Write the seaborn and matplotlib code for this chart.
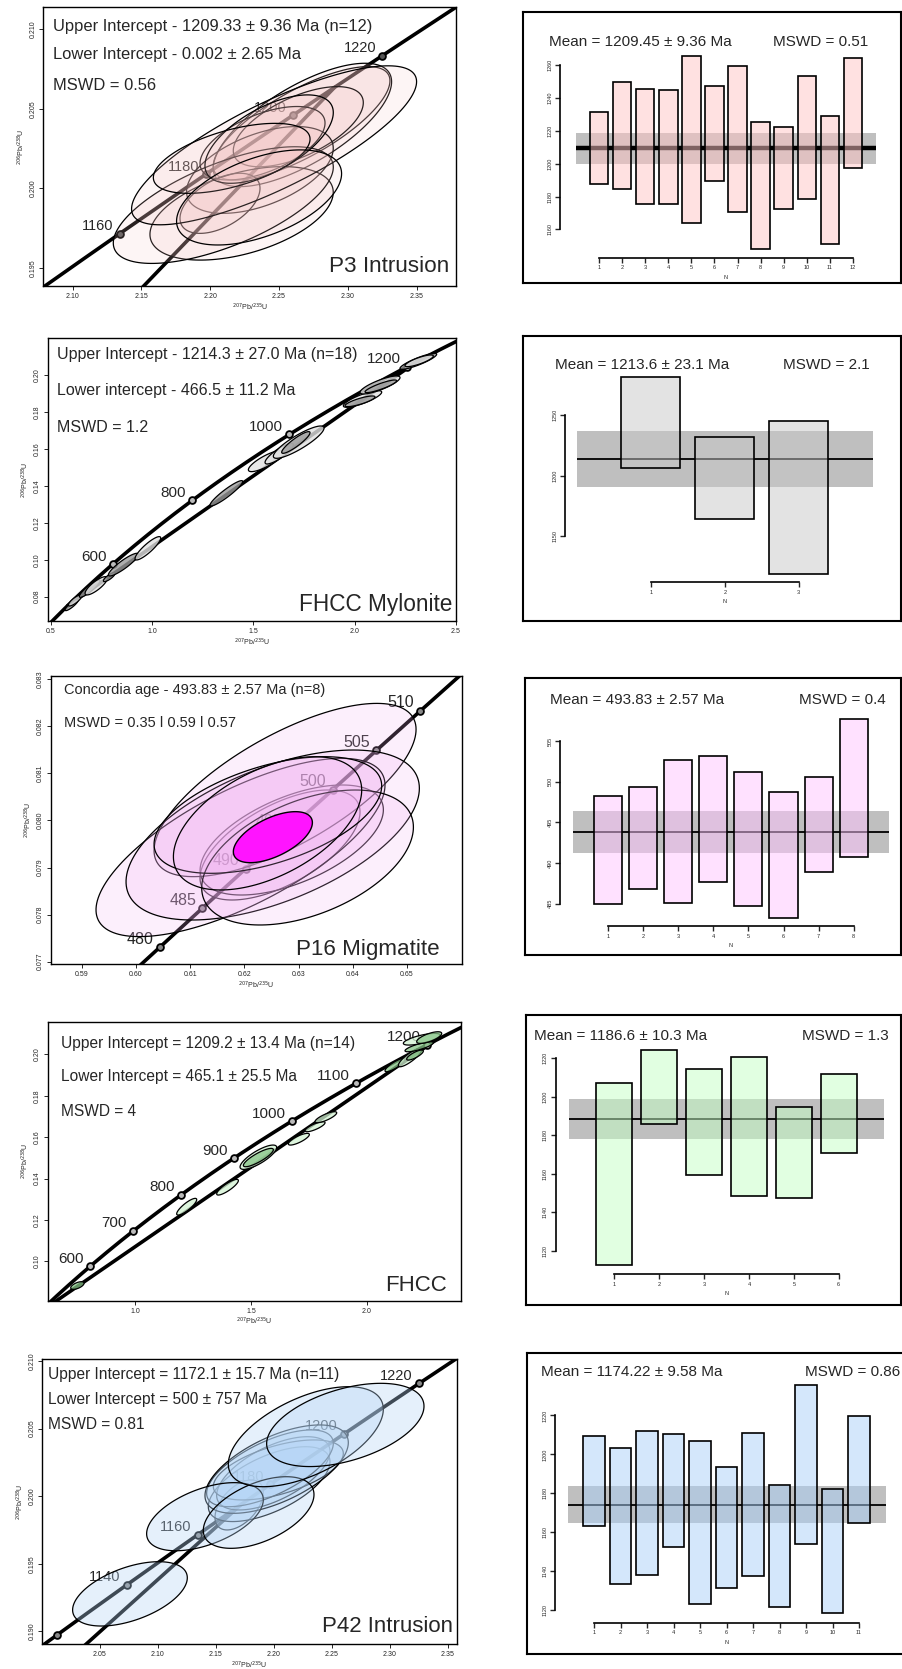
"""U-Pb concordia diagrams and weighted-mean age plots for five samples."""

import numpy as np
import matplotlib
matplotlib.use("Agg")
import matplotlib.pyplot as plt
from matplotlib.colors import to_rgba
import seaborn as sns

W, H = 902, 1669
L238 = 1.55125e-10
L235 = 9.8485e-10

# ---------------- concordia panels: (cx, cy, sx, sy, rho) ----------------
p3_ages = [1160, 1180, 1200, 1220]
p3_intercepts = [0.002, 1209.33]
p3_ellipses = [
    (2.2664, 0.20408, 0.0642, 0.00357, 0.75),
    (2.2670, 0.20398, 0.0648, 0.00388, 0.70),
    (2.2640, 0.20387, 0.04724, 0.00252, 0.60),
    (2.2361, 0.20115, 0.0533, 0.00273, 0.50),
    (2.2380, 0.20283, 0.04542, 0.00231, 0.55),
    (2.2071, 0.19905, 0.02907, 0.00189, 0.50),
    (2.2228, 0.19842, 0.0666, 0.00294, 0.45),
    (2.2095, 0.19894, 0.07994, 0.00367, 0.65),
    (2.2464, 0.20270, 0.10356, 0.00500, 0.80),
    (2.2428, 0.20309, 0.04663, 0.00278, 0.60),
    (2.2156, 0.20188, 0.05693, 0.00220, 0.55),
    (2.2355, 0.19942, 0.05996, 0.00299, 0.50),
]
p3_texts = ["Upper Intercept - 1209.33 ± 9.36 Ma (n=12)",
            "Lower Intercept - 0.002 ± 2.65 Ma", "MSWD = 0.56"]

mylo_ages = [600, 800, 1000, 1200]
mylo_intercepts = [466.5, 1214.3]
mylo_ellipses = [
    (0.6036, 0.07549, 0.0329, 0.00307, 0.88),
    (0.6201, 0.07792, 0.0329, 0.00298, 0.82),
    (0.6924, 0.08433, 0.0510, 0.00469, 0.90),
    (0.7245, 0.08587, 0.0551, 0.00496, 0.82),
    (0.7887, 0.09056, 0.0288, 0.00244, 0.82),
    (0.8586, 0.09733, 0.0740, 0.00614, 0.90),
    (0.9794, 0.10617, 0.0633, 0.00632, 0.88),
    (1.3668, 0.13596, 0.0806, 0.00686, 0.93),
    (1.5617, 0.15338, 0.0863, 0.00569, 0.82),
    (1.6275, 0.15744, 0.0699, 0.00560, 0.85),
    (1.7237, 0.16366, 0.1250, 0.00875, 0.87),
    (1.7097, 0.16348, 0.0699, 0.00587, 0.90),
    (2.0387, 0.18704, 0.0946, 0.00451, 0.82),
    (2.0263, 0.18578, 0.0740, 0.00289, 0.82),
    (2.1250, 0.19462, 0.0987, 0.00487, 0.82),
    (2.1291, 0.19390, 0.0781, 0.00343, 0.88),
    (2.3141, 0.20744, 0.0905, 0.00433, 0.88),
    (2.3183, 0.20771, 0.0699, 0.00316, 0.82),
]
mylo_dark = [1, 0, 1, 0, 1, 1, 0, 1, 0, 0, 0, 1, 0, 1, 0, 1, 1, 0]
mylo_texts = ["Upper Intercept - 1214.3 ± 27.0 Ma (n=18)",
              "Lower intercept - 466.5 ± 11.2 Ma", "MSWD = 1.2"]

p16_ages = [480, 485, 490, 495, 500, 505, 510]
p16_concordia_ellipse = (0.62527, 0.079645, 0.00729, 0.000542, 0.57)
p16_ellipses = [
    (0.62659, 0.079479, 0.01476, 0.001169, 0.60),
    (0.62875, 0.079585, 0.01691, 0.001169, 0.55),
    (0.62752, 0.080647, 0.02417, 0.001841, 0.70),
    (0.61930, 0.079426, 0.02666, 0.001894, 0.70),
    (0.62524, 0.079691, 0.02706, 0.001806, 0.55),
    (0.63167, 0.079213, 0.01953, 0.001434, 0.45),
    (0.62435, 0.080116, 0.02100, 0.001239, 0.50),
    (0.62429, 0.079939, 0.01737, 0.001416, 0.50),
]
p16_texts = ["Concordia age - 493.83 ± 2.57 Ma (n=8)", "MSWD = 0.35 l 0.59 l 0.57"]

fhcc_ages = [600, 700, 800, 900, 1000, 1100, 1200]
fhcc_intercepts = [465.1, 1209.2]
fhcc_ellipses = [
    (0.7511, 0.08833, 0.0288, 0.00185, 0.60),
    (1.2230, 0.12641, 0.0432, 0.00403, 0.85),
    (1.3993, 0.13583, 0.0468, 0.00378, 0.85),
    (1.5324, 0.15032, 0.0791, 0.00588, 0.80),
    (1.5324, 0.15016, 0.0647, 0.00443, 0.85),
    (1.7072, 0.15902, 0.0453, 0.00282, 0.80),
    (1.7770, 0.16506, 0.0432, 0.00242, 0.80),
    (1.8237, 0.16965, 0.0468, 0.00266, 0.80),
    (2.1223, 0.19485, 0.0432, 0.00322, 0.85),
    (2.1871, 0.19847, 0.0504, 0.00443, 0.85),
    (2.2266, 0.20370, 0.0612, 0.00242, 0.80),
    (2.2374, 0.20733, 0.0791, 0.00282, 0.70),
    (2.2698, 0.20813, 0.0540, 0.00282, 0.70),
    (2.2086, 0.19968, 0.0360, 0.00242, 0.80),
]
fhcc_dark = [1, 0, 0, 0, 1, 0, 0, 0, 1, 0, 1, 0, 1, 1]
fhcc_texts = ["Upper Intercept = 1209.2 ± 13.4 Ma (n=14)",
              "Lower Intercept = 465.1 ± 25.5 Ma", "MSWD = 4"]

p42_ages = [1120, 1140, 1160, 1180, 1200, 1220]
p42_labelled = [1140, 1160, 1180, 1200, 1220]
p42_intercepts = [500, 1172.1]
p42_ellipses = [
    (2.17000, 0.19935, 0.02083, 0.00185, 0.50),
    (2.19583, 0.20089, 0.05244, 0.00277, 0.60),
    (2.19943, 0.20169, 0.04885, 0.00271, 0.60),
    (2.20374, 0.20194, 0.05603, 0.00222, 0.55),
    (2.19655, 0.20206, 0.05460, 0.00284, 0.65),
    (2.20230, 0.20200, 0.06178, 0.00327, 0.60),
    (2.07586, 0.19277, 0.04943, 0.00238, 0.50),
    (2.14052, 0.19848, 0.05029, 0.00252, 0.50),
    (2.18678, 0.19879, 0.04770, 0.00265, 0.50),
    (2.22744, 0.20440, 0.06681, 0.00370, 0.55),
    (2.26149, 0.20527, 0.06782, 0.00308, 0.45),
]
p42_texts = ["Upper Intercept = 1172.1 ± 15.7 Ma (n=11)",
             "Lower Intercept = 500 ± 757 Ma", "MSWD = 0.81"]

# ---------------- weighted mean panels ----------------
r1_lo = [1187.8, 1184.4, 1175.6, 1175.2, 1164.0, 1189.6, 1170.7, 1147.8, 1172.2, 1178.7, 1151.0, 1197.6]
r1_hi = [1231.5, 1250.0, 1245.4, 1244.8, 1265.5, 1247.6, 1259.4, 1225.4, 1222.6, 1253.5, 1229.1, 1264.6]
r1_mean, r1_err = 1209.45, 9.36
r2_lo = [1206.1, 1164.4, 1119.2]
r2_hi = [1281.4, 1232.1, 1244.7]
r2_mean, r2_err = 1213.6, 23.1
r3_lo = [484.98, 486.82, 485.06, 487.69, 484.73, 483.25, 488.84, 490.69]
r3_hi = [498.28, 499.35, 502.64, 503.13, 501.23, 498.73, 500.58, 507.72]
r3_mean, r3_err = 493.83, 2.57
r4_lo = [1112.4, 1185.7, 1159.2, 1148.3, 1147.2, 1170.8]
r4_hi = [1207.3, 1224.4, 1214.2, 1220.8, 1194.8, 1211.9]
r4_mean, r4_err = 1188.6, 10.4
r5_lo = [1163.2, 1133.2, 1138.2, 1152.2, 1123.0, 1131.3, 1137.5, 1121.6, 1154.1, 1118.3, 1164.6]
r5_hi = [1209.2, 1203.1, 1212.0, 1210.6, 1207.0, 1193.5, 1210.9, 1184.2, 1235.4, 1182.3, 1219.8]
r5_mean, r5_err = 1174.22, 9.58

r_texts = [("Mean = 1209.45 ± 9.36 Ma", "MSWD = 0.51"),
           ("Mean = 1213.6 ± 23.1 Ma", "MSWD = 2.1"),
           ("Mean = 493.83 ± 2.57 Ma", "MSWD = 0.4"),
           ("Mean = 1186.6 ± 10.3 Ma", "MSWD = 1.3"),
           ("Mean = 1174.22 ± 9.58 Ma", "MSWD = 0.86")]

sns.set_style("ticks")
plt.rcParams["font.family"] = ["Liberation Sans", "DejaVu Sans"]
plt.rcParams["axes.unicode_minus"] = False

fig = plt.figure(figsize=(W / 100, H / 100), dpi=100)


def px_rect(x0, y0, x1, y1):
    return [x0 / W, 1 - y1 / H, (x1 - x0) / W, (y1 - y0) / H]


def fig_text(x, y, s, size, ha="left"):
    fig.text(x / W, 1 - y / H, s, ha=ha, va="center", fontsize=size)


def concordia(t_ma):
    t = np.asarray(t_ma, float) * 1e6
    return np.exp(L235 * t) - 1, np.exp(L238 * t) - 1


def ellipse(cx, cy, sx, sy, rho, n=160):
    t = np.linspace(0, 2 * np.pi, n)
    return cx + sx * np.cos(t), cy + sy * (rho * np.cos(t) + np.sqrt(1 - rho ** 2) * np.sin(t))


def concordia_panel(frame, xlim, ylim, xticks, yticks, xfmt, yfmt, t_span, ages, labelled,
                    intercepts, ellipses, fills, alpha, marker_fc, age_size=11):
    ax = fig.add_axes(px_rect(*frame))
    t = np.linspace(t_span[0], t_span[1], 400)
    cx, cy = concordia(t)
    sns.lineplot(x=cx, y=cy, sort=False, estimator=None, color="black",
                 linewidth=2.6, ax=ax, zorder=2)
    if intercepts is not None:
        # discordia: straight chord between lower and upper intercepts
        ix, iy = concordia(intercepts)
        sns.lineplot(x=ix, y=iy, sort=False, estimator=None, color="black",
                     linewidth=2.6, ax=ax, zorder=2)
    mx, my = concordia(ages)
    sns.scatterplot(x=mx, y=my, s=24, color=marker_fc, edgecolor="black",
                    linewidth=1.3, ax=ax, zorder=2.5, legend=False)
    for a, x, y in zip(ages, mx, my):
        if a in labelled:
            ax.annotate(str(a), (x, y), xytext=(-4.5, 2.5), textcoords="offset points",
                        ha="right", va="baseline", fontsize=age_size, zorder=2.6)
    for (ex, ey, sx, sy, rho), fc in zip(ellipses, fills):
        px, py = ellipse(ex, ey, sx, sy, rho)
        ax.fill(px, py, facecolor=to_rgba(fc, alpha), edgecolor="black",
                linewidth=0.9, zorder=3)
    ax.set_xlim(*xlim)
    ax.set_ylim(*ylim)
    ax.set_xticks(xticks)
    ax.set_xticklabels([xfmt % v for v in xticks])
    ax.set_yticks(yticks)
    ax.set_yticklabels([yfmt % v for v in yticks], rotation=90, va="center")
    ax.tick_params(direction="out", length=3, width=0.7, labelsize=5, pad=2)
    ax.set_xlabel(r"$^{207}$Pb/$^{235}$U", fontsize=5, labelpad=1)
    ax.set_ylabel(r"$^{206}$Pb/$^{238}$U", fontsize=5, labelpad=2)
    for s in ax.spines.values():
        s.set_linewidth(1.0)
        s.set_color("black")
    return ax


def wm_panel(box, inner, ylim, spine_px, lo, hi, mean, err, yticks, color, mean_lw):
    bax = fig.add_axes(px_rect(*box))
    bax.set_xticks([])
    bax.set_yticks([])
    for s in bax.spines.values():
        s.set_linewidth(1.5)
        s.set_color("black")
    ax = fig.add_axes(px_rect(*inner))
    ax.patch.set_visible(False)
    lo = np.array(lo)
    hi = np.array(hi)
    n = len(lo)
    x = np.arange(1, n + 1)
    ax.set_xlim(0, n + 1)
    ax.set_ylim(*ylim)
    ax.axhspan(mean - err, mean + err, color="#808080", alpha=0.5, lw=0, zorder=1)
    ax.axhline(mean, color="black", lw=mean_lw, zorder=2)
    ax.bar(x, hi - lo, bottom=lo, width=0.8, color=to_rgba(color, 0.5),
           edgecolor="black", linewidth=1.2, zorder=3)
    ax.spines[["top", "right"]].set_visible(False)
    ax.spines["left"].set_position(("outward", spine_px * 0.72))
    ax.spines["left"].set_bounds(yticks[0], yticks[-1])
    ax.spines["bottom"].set_bounds(1, n)
    for s in ("left", "bottom"):
        ax.spines[s].set_linewidth(1.2)
        ax.spines[s].set_color("black")
    ax.set_xticks(x)
    ax.set_xticklabels([str(v) for v in x])
    ax.set_yticks(yticks)
    ax.set_yticklabels([str(v) for v in yticks], rotation=90, va="center")
    ax.tick_params(direction="out", length=3.5, width=1.0, labelsize=4, pad=2)
    ax.set_xlabel("N", fontsize=4, labelpad=3)
    return ax


# ---- row 1: P3 Intrusion ----
concordia_panel((43.3, 7.3, 456, 286), (2.0787, 2.3786), (0.19385, 0.21138),
                [2.10, 2.15, 2.20, 2.25, 2.30, 2.35], [0.195, 0.200, 0.205, 0.210],
                "%.2f", "%.3f", (1100, 1260), p3_ages, p3_ages, p3_intercepts,
                p3_ellipses, ["#f4c4c4"] * len(p3_ellipses), 0.17, "#555555", 10.5)
for txt, y in zip(p3_texts, [26, 55, 85.7]):
    fig_text(52.7, y, txt, 11.9)
fig_text(449.3, 266.7, "P3 Intrusion", 16.2, ha="right")

# ---- row 2: FHCC Mylonite ----
concordia_panel((47.7, 338.3, 456, 621), (0.485, 2.5), (0.0668, 0.2199),
                [0.5, 1.0, 1.5, 2.0, 2.5], [0.08, 0.10, 0.12, 0.14, 0.16, 0.18, 0.20],
                "%.1f", "%.2f", (350, 1300), mylo_ages, mylo_ages, mylo_intercepts,
                mylo_ellipses, ["#9a9a9a" if d else "#e2e2e2" for d in mylo_dark],
                0.8, "#bbbbbb", 11)
for txt, y in zip(mylo_texts, [355, 391, 427.3]):
    fig_text(56.7, y, txt, 11.5)
fig_text(452.7, 605, "FHCC Mylonite", 16.3, ha="right")

# ---- row 3: P16 Migmatite ----
ax3 = concordia_panel((50.7, 676, 461.7, 964), (0.58428, 0.66011), (0.07695, 0.08307),
                      [0.59, 0.60, 0.61, 0.62, 0.63, 0.64, 0.65],
                      [0.077, 0.078, 0.079, 0.080, 0.081, 0.082, 0.083],
                      "%.2f", "%.3f", (470, 520), p16_ages, p16_ages, None,
                      p16_ellipses, ["#f2b2f2"] * len(p16_ellipses), 0.2, "#888888", 11.5)
ex, ey = ellipse(*p16_concordia_ellipse)
ax3.fill(ex, ey, facecolor="#ff14ff", edgecolor="black", linewidth=1.0, zorder=4)
for txt, y in zip(p16_texts, [690, 723.3]):
    fig_text(64, y, txt, 10.5)
fig_text(439.3, 949.3, "P16 Migmatite", 16.1, ha="right")

# ---- row 4: FHCC ----
concordia_panel((47.7, 1021.7, 460.7, 1300.7), (0.623, 2.4058), (0.0810, 0.2158),
                [1.0, 1.5, 2.0], [0.10, 0.12, 0.14, 0.16, 0.18, 0.20],
                "%.1f", "%.2f", (350, 1300), fhcc_ages, fhcc_ages, fhcc_intercepts,
                fhcc_ellipses, ["#86c486" if d else "#d2f2d2" for d in fhcc_dark],
                0.75, "#bbbbbb", 11)
for txt, y in zip(fhcc_texts, [1043.3, 1076, 1111.7]):
    fig_text(61, y, txt, 11.2)
fig_text(446.7, 1285, "FHCC", 16, ha="right")

# ---- row 5: P42 Intrusion ----
concordia_panel((42.3, 1359, 456.7, 1644), (2.0003, 2.3575), (0.18906, 0.21015),
                [2.05, 2.10, 2.15, 2.20, 2.25, 2.30, 2.35],
                [0.190, 0.195, 0.200, 0.205, 0.210],
                "%.2f", "%.3f", (1080, 1260), p42_ages, p42_labelled, p42_intercepts,
                p42_ellipses, ["#b6d6f6"] * len(p42_ellipses), 0.35, "#888888", 10.5)
for txt, y in zip(p42_texts, [1374.3, 1399, 1424.3]):
    fig_text(48.3, y, txt, 11.2)
fig_text(453.3, 1626.7, "P42 Intrusion", 16, ha="right")

# ---- weighted mean panels ----
wm_panel((523, 12, 901, 283), (575.9, 20, 876.1, 257.7), (1142.7, 1287.6), 15.9,
         r1_lo, r1_hi, r1_mean, r1_err, [1160, 1180, 1200, 1220, 1240, 1260], "#ffc4c4", 3.2)
wm_panel((522.7, 336, 901, 621), (576.7, 345, 872.7, 582.3), (1112.3, 1307.5), 11.4,
         r2_lo, r2_hi, r2_mean, r2_err, [1150, 1200, 1250], "#c8c8c8", 1.3)
wm_panel((524.7, 678, 901, 955), (572.9, 690, 888.8, 926), (482.23, 511.29), 12.9,
         r3_lo, r3_hi, r3_mean, r3_err, [485, 490, 495, 500, 505], "#ffc4ff", 1.3)
wm_panel((526, 1014.7, 901, 1305), (569.4, 1025, 883.6, 1274.3), (1107.7, 1237.2), 13.7,
         r4_lo, r4_hi, r4_mean, r4_err, [1120, 1140, 1160, 1180, 1200, 1220], "#c4ffc4", 1.3)
wm_panel((526.7, 1353.3, 912, 1654), (567.5, 1365, 885.5, 1622.7), (1113.5, 1245.9), 12.5,
         r5_lo, r5_hi, r5_mean, r5_err, [1120, 1140, 1160, 1180, 1200, 1220], "#aad0f8", 1.3)

r_pos = [(549, 868, 42), (554.7, 869.3, 365), (550, 886, 700), (534, 888.7, 1036), (541.3, None, 1372)]
for (mean_txt, mswd_txt), (xl, xr, y) in zip(r_texts, r_pos):
    fig_text(xl, y, mean_txt, 11)
    if xr is None:
        fig_text(805, y, mswd_txt, 11)
    else:
        fig_text(xr, y, mswd_txt, 11, ha="right")

fig.savefig("out.png", dpi=100)
